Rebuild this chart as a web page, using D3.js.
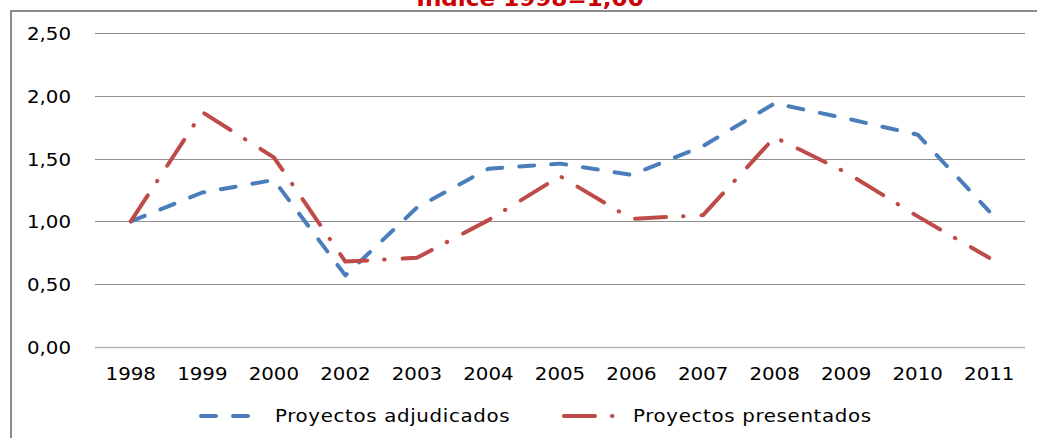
<!DOCTYPE html>
<html>
<head>
<meta charset="utf-8">
<script src="https://cdn.jsdelivr.net/npm/d3@7"></script>
<style>
  body { margin: 0; background: #fff; }
  svg { display: block; font-family: "DejaVu Sans", sans-serif; }
</style>
</head>
<body>
<svg id="chart"></svg>
<script>
// --- Data ---
const years = ["1998", "1999", "2000", "2002", "2003", "2004", "2005", "2006", "2007", "2008", "2009", "2010", "2011"];
const adjudicados = [1.0, 1.23, 1.33, 0.57, 1.11, 1.42, 1.46, 1.37, 1.6, 1.94, 1.82, 1.69, 1.08];
const presentados = [1.0, 1.87, 1.51, 0.68, 0.71, 1.01, 1.36, 1.02, 1.05, 1.67, 1.39, 1.04, 0.71];
const yTicks = [0, 0.5, 1, 1.5, 2, 2.5];
const seriesNames = ["Proyectos adjudicados", "Proyectos presentados"];
const title = "Índice 1998=1,00";

// --- Config ---
const width = 1038,
  height = 438;
const blue = "#4a7ebb",
  red = "#be4b48";
const blueDash = "15,17",
  redDash = "31,17,0.5,18";
const sx = 1.1; // text in the source is stretched a little horizontally

const svg = d3.select("#chart").attr("width", width).attr("height", height);

const x = d3.scalePoint().domain(years).range([95, 1025]).padding(0.5);
const y = d3.scaleLinear().domain([0, 2.5]).range([347, 33]);
const fmt = (v) => d3.format(".2f")(v).replace(".", ",");

function stretchedText(g, px, py, txt, anchor) {
  return g
    .append("text")
    .attr("transform", `translate(${px},${py}) scale(${sx},1)`)
    .attr("text-anchor", anchor)
    .text(txt);
}

// --- Title (cut off at the top) ---
stretchedText(svg, 530, 5.5, title, "middle")
  .attr("font-size", "21px")
  .attr("font-weight", "bold")
  .attr("fill", "#cc0000");

// --- Frame ---
svg
  .append("path")
  .attr("d", `M11,${height} V11 H1037`)
  .attr("fill", "none")
  .attr("stroke", "#8c8c8c")
  .attr("stroke-width", 2);

// --- Grid and y labels ---
svg
  .append("g")
  .selectAll("line")
  .data(yTicks)
  .join("line")
  .attr("x1", 95)
  .attr("x2", 1025)
  .attr("y1", (d) => Math.round(y(d)) + 0.5)
  .attr("y2", (d) => Math.round(y(d)) + 0.5)
  .attr("stroke", (d) => (d === 0 ? "#b4b4b4" : "#8e8e8e"))
  .attr("stroke-width", (d) => (d === 0 ? 1.6 : 1));

const yLab = svg.append("g").attr("font-size", "18px").attr("fill", "#000");
yTicks.forEach((t) => stretchedText(yLab, 71, y(t) + 7, fmt(t), "end"));

// --- X labels ---
const xLab = svg.append("g").attr("font-size", "18px").attr("fill", "#000");
years.forEach((yr) => stretchedText(xLab, x(yr), 380, yr, "middle"));

// --- Lines ---
const line = d3
  .line()
  .x((d, i) => x(years[i]))
  .y((d) => y(d));

svg
  .append("path")
  .datum(adjudicados)
  .attr("d", line)
  .attr("fill", "none")
  .attr("stroke", blue)
  .attr("stroke-width", 4)
  .attr("stroke-linecap", "round")
  .attr("stroke-linejoin", "round")
  .attr("stroke-dasharray", blueDash);

svg
  .append("path")
  .datum(presentados)
  .attr("d", line)
  .attr("fill", "none")
  .attr("stroke", red)
  .attr("stroke-width", 4)
  .attr("stroke-linecap", "round")
  .attr("stroke-linejoin", "round")
  .attr("stroke-dasharray", redDash);

// --- Legend ---
const legend = svg.append("g");
const legendItems = [
  { name: seriesNames[0], color: blue, dash: blueDash, x0: 201, x1: 254, tx: 275 },
  { name: seriesNames[1], color: red, dash: redDash, x0: 564, x1: 616, tx: 633 },
];
legendItems.forEach((it) => {
  legend
    .append("line")
    .attr("x1", it.x0)
    .attr("x2", it.x1)
    .attr("y1", 416)
    .attr("y2", 416)
    .attr("stroke", it.color)
    .attr("stroke-width", 4)
    .attr("stroke-linecap", "round")
    .attr("stroke-dasharray", it.dash);
  stretchedText(legend, it.tx, 422, it.name, "start")
    .attr("font-size", "18px")
    .attr("letter-spacing", "0.6px");
});
</script>
</body>
</html>
